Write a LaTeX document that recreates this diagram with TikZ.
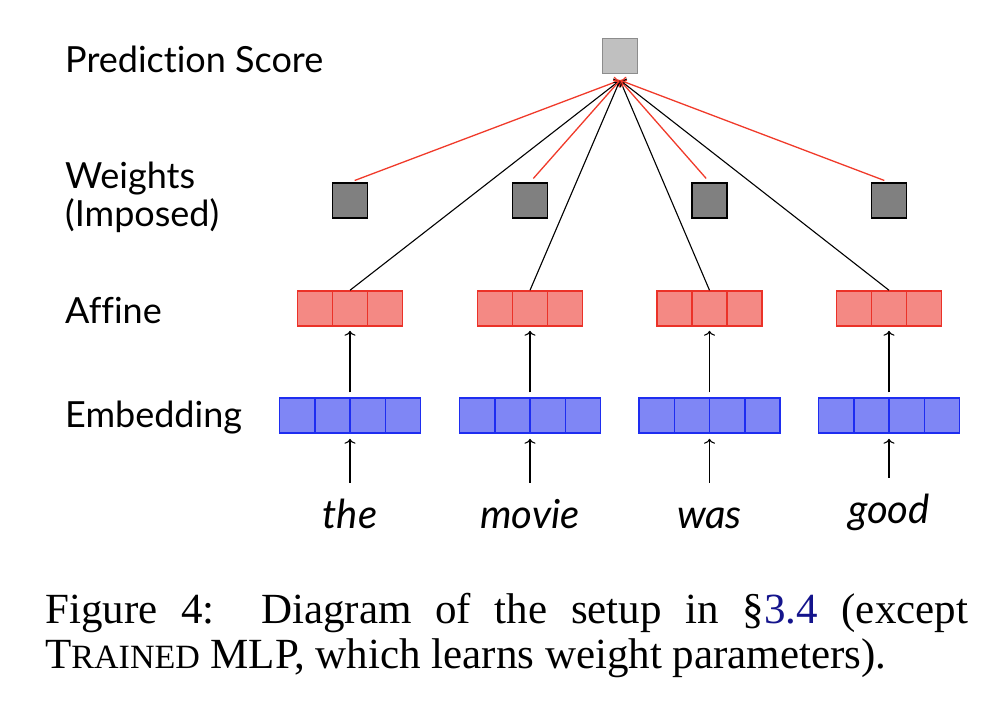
\documentclass[tikz,border=0pt]{standalone}
\usepackage{fontspec}
\setmainfont{Liberation Serif}
\newfontfamily\labfont{Lato}[Ligatures=NoCommon]
\usetikzlibrary{arrows.meta}
\definecolor{redl}{RGB}{240,58,42}
\definecolor{redf}{RGB}{244,137,132}
\definecolor{redb}{RGB}{235,50,40}
\definecolor{bluef}{RGB}{127,134,245}
\definecolor{blueb}{RGB}{30,45,240}
\definecolor{scoref}{RGB}{192,192,192}
\definecolor{scoreb}{RGB}{140,140,140}
\definecolor{wfill}{RGB}{128,128,128}
\definecolor{linkblue}{RGB}{20,20,140}
\begin{document}
\begin{tikzpicture}[x=1pt,y=-1pt,
  lab/.style={font=\labfont\fontsize{36}{42}\selectfont, anchor=base west, inner sep=0pt},
  wordlbl/.style={font=\labfont\itshape\fontsize{40}{44}\selectfont, anchor=base, inner xsep=0pt, inner ysep=0pt, text height=45pt, text depth=0pt},
  scorebox/.style={draw=scoreb, fill=scoref, line width=1.5pt, minimum size=35pt, inner sep=0pt},
  wbox/.style={draw=black, fill=wfill, line width=1.5pt, minimum size=35pt, inner sep=0pt},
  affvec/.style={draw=redb, fill=redf, line width=1.5pt, minimum width=105pt, minimum height=35pt, inner sep=0pt},
  embvec/.style={draw=blueb, fill=bluef, line width=1.5pt, minimum width=141pt, minimum height=35pt, inner sep=0pt},
  arr/.style={-{To[length=5pt,width=11pt]}, line width=1.1pt},
  redarr/.style={arr, draw=redl, line width=1.3pt},
  capfont/.style={font=\fontsize{43}{45}\selectfont, anchor=base west, inner sep=0pt}
]
\useasboundingbox (0,0) rectangle (982,704);

% left labels
\node[lab] (lscore) at (65,72) {Prediction Score};
\node[lab] (lw1) at (65,188) {Weights};
\node[lab] (lw2) at (65,226) {(Imposed)};
\node[lab] (laff) at (65,323) {Affine};
\node[lab] (lemb) at (65,427) {Embedding};

% prediction score
\node[scorebox] (score) at (620,56) {};
\coordinate (tip) at ([yshift=-6pt]score.south);

\foreach \i/\x/\w/\b in {1/350/the/528, 2/530/movie/528, 3/709.5/was/528, 4/889/good/523} {
  \node[wbox] (w\i) at (\x,200.5) {};
  \node[affvec] (a\i) at (\x,308.5) {};
  \node[embvec] (e\i) at (\x,415.5) {};
  \node[wordlbl] (t\i) at (\x,\b) {\w};
  \foreach \d in {-17.5,17.5}
    \draw[redb, line width=1.5pt] ([xshift=\d pt]a\i.north) -- ([xshift=\d pt]a\i.south);
  \foreach \d in {-35.25,0,35.25}
    \draw[blueb, line width=1.5pt] ([xshift=\d pt]e\i.north) -- ([xshift=\d pt]e\i.south);
  \draw[arr, shorten >=5pt] (t\i.north) -- (e\i.south);
  \draw[arr, shorten <=5pt, shorten >=4pt] (e\i.north) -- (a\i.south);
  \draw[arr] (a\i.north) -- (tip);
  \draw[redarr, shorten <=5pt] (w\i.north) -- (tip);
}

% caption
\node[capfont] (cap1) at (45,623) {\makebox[923pt][s]{Figure 4:\hspace{0.15em} Diagram of the setup in §\textcolor{linkblue}{3.4} (except}};
\node[capfont] (cap2) at (45,668) {T{\fontsize{34}{45}\selectfont RAINED} MLP, which learns weight parameters).};
\end{tikzpicture}
\end{document}
